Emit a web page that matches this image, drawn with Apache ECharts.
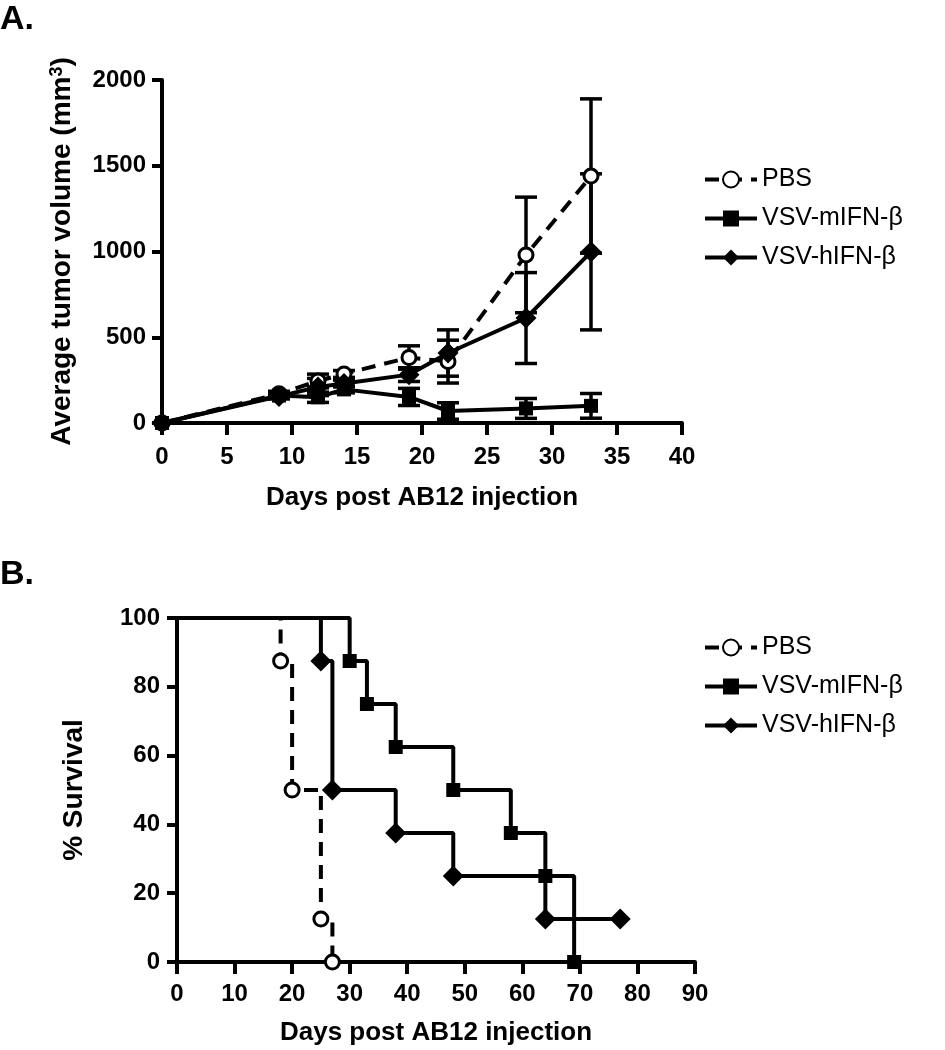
<!DOCTYPE html>
<html><head><meta charset="utf-8">
<script src="https://cdn.jsdelivr.net/npm/echarts/dist/echarts.min.js"></script>
<style>html,body{margin:0;padding:0;background:#fff}#c{width:945px;height:1050px}</style>
</head><body><div id="c"></div>
<script>
// ---------- Panel A data ----------
const days = [0, 9, 12, 14, 19, 22, 28, 33];
const pbsMean  = [0, 170, 245, 286, 382, 358, 980, 1440];
const pbsErr   = [0, 15, 40, 20, 68, 125, 337, 450];
const mIfnMean = [0, 160, 150, 196, 152, 70, 85, 100];
const mIfnErr  = [0, 15, 30, 20, 50, 48, 58, 72];
const hIfnMean = [0, 155, 210, 230, 282, 408, 612, 998];
const hIfnErr  = [0, 15, 50, 20, 40, 135, 265, 455];
const xTicksA = [0, 5, 10, 15, 20, 25, 30, 35, 40];
const yTicksA = [0, 500, 1000, 1500, 2000];

// ---------- Panel B data (Kaplan-Meier) ----------
const pbsSurvDays  = [0, 18, 20, 25, 27];
const pbsSurv      = [100, 87.5, 50, 12.5, 0];
const mIfnSurvDays = [0, 30, 33, 38, 48, 58, 64, 69];
const mIfnSurv     = [100, 87.5, 75, 62.5, 50, 37.5, 25, 0];
const hIfnSurvDays = [0, 25, 27, 38, 48, 64, 77];
const hIfnSurv     = [100, 87.5, 50, 37.5, 25, 12.5, 12.5];
const xTicksB = [0, 10, 20, 30, 40, 50, 60, 70, 80, 90];
const yTicksB = [0, 20, 40, 60, 80, 100];

const names = ['PBS', 'VSV-mIFN-β', 'VSV-hIFN-β'];
const FONT = 'Liberation Sans';

const chart = echarts.init(document.getElementById('c'), null, {renderer: 'canvas'});

function pairs(xs, ys) { return xs.map((x, i) => [x, ys[i]]); }
function kmData(xs, ys) {
  return xs.map((x, i) => i === 0 ? {value: [x, ys[i]], symbol: 'none'} : [x, ys[i]]);
}

function errSeries(means, errs) {
  return {
    type: 'custom', xAxisIndex: 0, yAxisIndex: 0, z: 1, silent: true,
    encode: {x: 0, y: [1, 2]},
    data: days.map((d, i) => [d, means[i] - errs[i], means[i] + errs[i]]).filter((r, i) => errs[i] > 0),
    renderItem: function (params, api) {
      const x = api.value(0);
      const lo = api.coord([x, api.value(1)]);
      const hi = api.coord([x, api.value(2)]);
      const hw = 11;
      const st = {stroke: '#000', lineWidth: 3.5};
      return {type: 'group', children: [
        {type: 'line', shape: {x1: lo[0], y1: lo[1], x2: hi[0], y2: hi[1]}, style: st},
        {type: 'line', shape: {x1: hi[0] - hw, y1: hi[1], x2: hi[0] + hw, y2: hi[1]}, style: st},
        {type: 'line', shape: {x1: lo[0] - hw, y1: lo[1], x2: lo[0] + hw, y2: lo[1]}, style: st}
      ]};
    }
  };
}

const styles = {
  'PBS':        {symbol: 'circle', symbolSize: 14, line: {color: '#000', width: 4, type: [14, 9]}, item: {color: '#fff', borderColor: '#000', borderWidth: 3}},
  'VSV-mIFN-β': {symbol: 'rect', symbolSize: 14, line: {color: '#000', width: 4}, item: {color: '#000', borderColor: '#000', borderWidth: 0}},
  'VSV-hIFN-β': {symbol: 'diamond', symbolSize: 21, line: {color: '#000', width: 4}, item: {color: '#000', borderColor: '#000', borderWidth: 0}}
};

function lineSeries(name, data, xi, step) {
  const s = styles[name];
  const o = {
    name: name, type: 'line', xAxisIndex: xi, yAxisIndex: xi, data: data,
    symbol: s.symbol, symbolSize: s.symbolSize, showSymbol: true,
    lineStyle: s.line, itemStyle: s.item, z: 3, clip: false
  };
  if (step) o.step = 'end';
  return o;
}

function axisCommon(min, max, interval, labelMargin, isY) {
  return {
    min: min, max: max, interval: interval, type: 'value',
    axisLine: {show: true, onZero: false, lineStyle: {color: '#000', width: 4}},
    axisTick: {show: true, inside: false, length: isY ? 10 : 12, lineStyle: {color: '#000', width: 4}},
    axisLabel: {color: '#000', fontFamily: FONT, fontWeight: 'bold', fontSize: 24, margin: labelMargin,
                formatter: function (v) { return String(v); }},
    splitLine: {show: false}
  };
}

const titleStyle = {color: '#000', fontFamily: FONT, fontWeight: 'bold', fontSize: 26};

function legendCfg(top) {
  return {data: names, left: 698, top: top, orient: 'vertical', itemWidth: 52, itemHeight: 20, itemGap: 14,
    lineStyle: {width: 4}, selectedMode: false,
    textStyle: {fontFamily: FONT, fontSize: 25, color: '#000', lineHeight: 20}};
}

const option = {
  animation: false,
  backgroundColor: '#fff',
  grid: [
    {left: 162, right: 945 - 682, top: 80, bottom: 1050 - 423},
    {left: 177, right: 945 - 695, top: 618, bottom: 1050 - 962}
  ],
  xAxis: [
    Object.assign(axisCommon(xTicksA[0], xTicksA[xTicksA.length - 1], xTicksA[1] - xTicksA[0], 22, false), {
      gridIndex: 0, name: 'Days post AB12 injection', nameLocation: 'middle', nameGap: 62,
      nameTextStyle: titleStyle
    }),
    Object.assign(axisCommon(xTicksB[0], xTicksB[xTicksB.length - 1], xTicksB[1] - xTicksB[0], 20, false), {
      gridIndex: 1, name: 'Days post AB12 injection', nameLocation: 'middle', nameGap: 58,
      nameTextStyle: titleStyle
    })
  ],
  yAxis: [
    Object.assign(axisCommon(yTicksA[0], yTicksA[yTicksA.length - 1], yTicksA[1] - yTicksA[0], 16, true), {
      gridIndex: 0, name: 'Average tumor volume (mm{sup|3})', nameLocation: 'middle', nameGap: 86, nameRotate: 90,
      nameTextStyle: Object.assign({}, titleStyle, {fontSize: 28, rich: {sup: {fontFamily: FONT, fontWeight: 'bold', fontSize: 18, verticalAlign: 'top', color: '#000'}}})
    }),
    Object.assign(axisCommon(yTicksB[0], yTicksB[yTicksB.length - 1], yTicksB[1] - yTicksB[0], 17, true), {
      gridIndex: 1, name: '% Survival', nameLocation: 'middle', nameGap: 89, nameRotate: 90,
      nameTextStyle: Object.assign({}, titleStyle, {fontSize: 28})
    })
  ],
  legend: [legendCfg(162), legendCfg(630)],
  graphic: [
    {type: 'text', left: 0, top: 3, style: {text: 'A.', fontFamily: FONT, fontWeight: 'bold', fontSize: 34, fill: '#000'}},
    {type: 'text', left: 0, top: 558, style: {text: 'B.', fontFamily: FONT, fontWeight: 'bold', fontSize: 34, fill: '#000'}}
  ],
  series: [
    errSeries(pbsMean, pbsErr),
    errSeries(mIfnMean, mIfnErr),
    errSeries(hIfnMean, hIfnErr),
    lineSeries('PBS', pairs(days, pbsMean), 0, false),
    lineSeries('VSV-mIFN-β', pairs(days, mIfnMean), 0, false),
    lineSeries('VSV-hIFN-β', pairs(days, hIfnMean), 0, false),
    lineSeries('PBS', kmData(pbsSurvDays, pbsSurv), 1, true),
    lineSeries('VSV-mIFN-β', kmData(mIfnSurvDays, mIfnSurv), 1, true),
    lineSeries('VSV-hIFN-β', kmData(hIfnSurvDays, hIfnSurv), 1, true)
  ]
};
chart.setOption(option);
</script>
</body></html>
